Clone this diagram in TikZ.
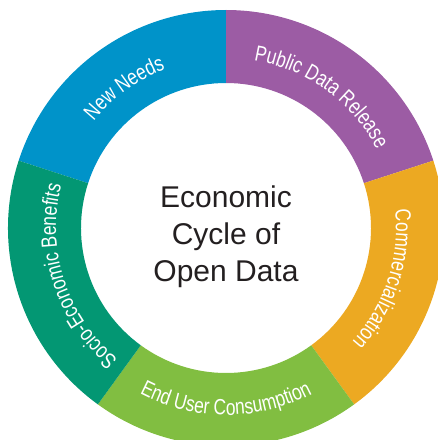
\documentclass[tikz,border=0pt]{standalone}
\usepackage{fontspec}
\setmainfont{Liberation Sans}
\newfontfamily\segfont[FakeStretch=0.79]{Liberation Sans}
\usetikzlibrary{decorations.text}
\definecolor{cblue}{HTML}{0093C9}
\definecolor{cpurple}{HTML}{9C5CA4}
\definecolor{corange}{HTML}{ECA922}
\definecolor{clgreen}{HTML}{81BE41}
\definecolor{cdgreen}{HTML}{039773}
\definecolor{ctext}{HTML}{231F20}
\newcommand\segstyle{\color{white}\segfont\fontsize{22}{22}\selectfont}
\tikzset{
  seglabel/.style={decorate, decoration={text along path, text align=center, text={|\segstyle|#1}}}
}
\begin{document}
\begin{tikzpicture}
\useasboundingbox (0,0) rectangle (438pt,440pt);
\clip (0,0) rectangle (438pt,440pt);
\begin{scope}[shift={(226pt,212pt)}]
\foreach \a/\b/\c in {90/162/cblue, 18/90/cpurple, -54/18/corange, -126/-54/clgreen, 162/234/cdgreen}
  \fill[\c] (\a:218pt) arc[start angle=\a, end angle=\b, radius=218pt] -- (\b:145pt) arc[start angle=\b, end angle=\a, radius=145pt] -- cycle;
\path[seglabel={New Needs}] (162:170pt) arc[start angle=162, end angle=90, radius=170pt];
\path[seglabel={Public Data Release}] (90:170pt) arc[start angle=90, end angle=18, radius=170pt];
\path[seglabel={Commercialization}] (18:170pt) arc[start angle=18, end angle=-54, radius=170pt];
\path[seglabel={End User Consumption}] (-126:187pt) arc[start angle=-126, end angle=-54, radius=187pt];
\path[seglabel={Socio-Economic Benefits}] (234:170pt) arc[start angle=234, end angle=162, radius=170pt];
\node[text=ctext, font=\fontsize{30}{37}\selectfont, align=center, inner sep=0pt] (title) at (0,-9pt) {Economic\\Cycle of\\Open Data};
\end{scope}
\end{tikzpicture}
\end{document}
